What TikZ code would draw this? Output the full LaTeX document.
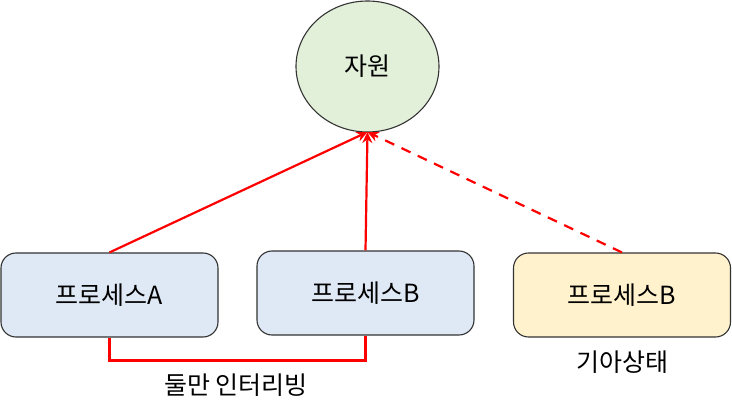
\documentclass[tikz,border=0pt]{standalone}
\usepackage{fontspec}
\setmainfont{Noto Sans CJK KR}
\usetikzlibrary{arrows.meta,shapes.geometric}
\definecolor{resfill}{HTML}{E2EFD9}
\definecolor{procfill}{HTML}{DEE9F5}
\definecolor{waitfill}{HTML}{FFF2CC}
\definecolor{linered}{HTML}{FF0000}
\begin{document}
\begin{tikzpicture}[x=1pt,y=-1pt,
  procbox/.style={draw=black!80,line width=1.1pt,rounded corners=15pt,minimum width=217pt,minimum height=84pt,inner sep=0pt,font=\fontsize{25}{30}\selectfont},
  resnode/.style={ellipse,draw=black!80,line width=1.1pt,fill=resfill,minimum width=143pt,minimum height=131pt,inner sep=0pt,font=\fontsize{25}{30}\selectfont},
  conn/.style={draw=linered,line width=2.2pt},
  arr/.style={conn,-{Stealth[length=11pt,width=10pt]}},
  lbl/.style={font=\fontsize{25}{30}\selectfont,inner sep=0pt}]
\useasboundingbox (0,0) rectangle (732,417);
\node[resnode] (res) at (367.5,66.5) {자원};
\node[procbox,fill=procfill] (pa) at (109.5,295) {프로세스A};
\node[procbox,fill=procfill] (pb) at (365.5,293) {프로세스B};
\node[procbox,fill=waitfill] (pc) at (622,295) {프로세스B};
\coordinate (tgt) at (367.5,132);
\draw[arr] (pa.north) -- (tgt);
\draw[arr] (pb.north) -- (tgt);
\draw[arr,dashed,dash pattern=on 10pt off 8pt] (pc.north) -- (tgt);
\coordinate (bl) at (109.5,360.5);
\coordinate (br) at (365.5,360.5);
\draw[conn] (pa.south) -- (bl) -- (br) -- (pb.south);
\node[lbl] (il) at (236,385) {둘만 인터리빙};
\node[lbl] (wl) at (622,362) {기아상태};
\end{tikzpicture}
\end{document}
